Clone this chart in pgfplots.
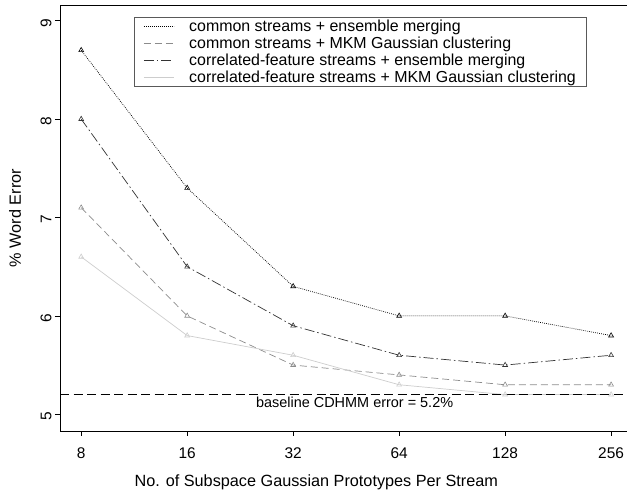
\documentclass[border=0pt]{standalone}
\usepackage{pgfplots}
\pgfplotsset{compat=1.18}
\usepackage{fontspec}
\setmainfont{Liberation Sans}

\definecolor{serA}{HTML}{000000}
\definecolor{serB}{HTML}{8C8C8C}
\definecolor{serC}{HTML}{333333}
\definecolor{serD}{HTML}{CDCDCD}
\definecolor{baseline}{HTML}{505050}

\begin{document}
\begin{tikzpicture}[x=1bp,y=1bp]
\useasboundingbox (-60bp,-62bp) rectangle (567bp,426bp+5bp);
\begin{axis}[
  at={(0,0)}, anchor=south west,
  width=567bp, height=426bp, scale only axis,
  xmin=-0.2, xmax=5.15,
  ymin=4.83, ymax=9.16,
  axis x line=box, axis y line=left,
  y axis line style={-},
  x axis line style={-},
  axis line style={line width=0.8bp},
  xtick={0,1,2,3,4,5},
  xticklabels={8,16,32,64,128,256},
  ytick={5,6,7,8,9},
  xtick pos=left, ytick pos=left,
  tick align=outside,
  major tick length=5bp,
  tick style={black, line width=0.7bp},
  /pgf/number format/assume math mode=true,
  ticklabel style={font=\fontsize{15.5}{17}\selectfont},
  yticklabel style={rotate=90, anchor=south},
  xticklabel style={yshift=-8bp},
  yticklabel style={xshift=-2bp},
  xlabel={No. of Subspace Gaussian Prototypes Per Stream},
  ylabel={\% Word Error},
  label style={font=\fontsize{16.3}{18}\selectfont},
  xlabel style={at={(axis description cs:0.452,-0.121)}, anchor=center},
  ylabel style={at={(axis description cs:-0.0794,0.5)}, anchor=center, rotate=0},
  legend style={
    at={(rel axis cs:0.1305,0.972)}, anchor=north west,
    draw=black!65, line width=1bp, fill=white,
    font=\fontsize{16}{12}\selectfont,
    inner xsep=9bp, inner ysep=2bp,
    nodes={inner ysep=0.5bp},
    row sep=3bp,
    legend cell align=left,
    /tikz/every odd column/.append style={column sep=13bp},
  },
  legend image code/.code={\draw[#1,mark=none,line width=0.7bp] (0bp,0bp) -- (30bp,0bp);},
  every axis plot/.append style={line width=0.7bp, mark=triangle, mark size=2.8bp,
    mark options={solid, line width=0.6bp}},
]
% common streams + ensemble merging
\addplot[serA, dash pattern=on 0.8bp off 1.2bp] coordinates
  {(0,8.7) (1,7.3) (2,6.3) (3,6.0) (4,6.0) (5,5.8)};
\addlegendentry{common streams + ensemble merging}
% common streams + MKM Gaussian clustering
\addplot[serB, dash pattern=on 7bp off 4bp] coordinates
  {(0,7.1) (1,6.0) (2,5.5) (3,5.4) (4,5.3) (5,5.3)};
\addlegendentry{common streams + MKM Gaussian clustering}
% correlated-feature streams + ensemble merging
\addplot[serC, dash pattern=on 10bp off 3bp on 1.5bp off 3bp] coordinates
  {(0,8.0) (1,6.5) (2,5.9) (3,5.6) (4,5.5) (5,5.6)};
\addlegendentry{correlated-feature streams + ensemble merging}
% correlated-feature streams + MKM Gaussian clustering
\addplot[serD, solid] coordinates
  {(0,6.6) (1,5.8) (2,5.6) (3,5.3) (4,5.2) (5,5.2)};
\addlegendentry{correlated-feature streams + MKM Gaussian clustering}
% baseline error level
\addplot[baseline, line width=1bp, dash pattern=on 9bp off 4.5bp, mark=none, forget plot]
  coordinates {(-0.2,5.2) (5.15,5.2)};
\node[anchor=north, font=\fontsize{14.5}{16}\selectfont, inner sep=2bp]
  at (axis cs:2.58,5.2) {baseline CDHMM error = 5.2\%};
\end{axis}
\end{tikzpicture}
\end{document}
